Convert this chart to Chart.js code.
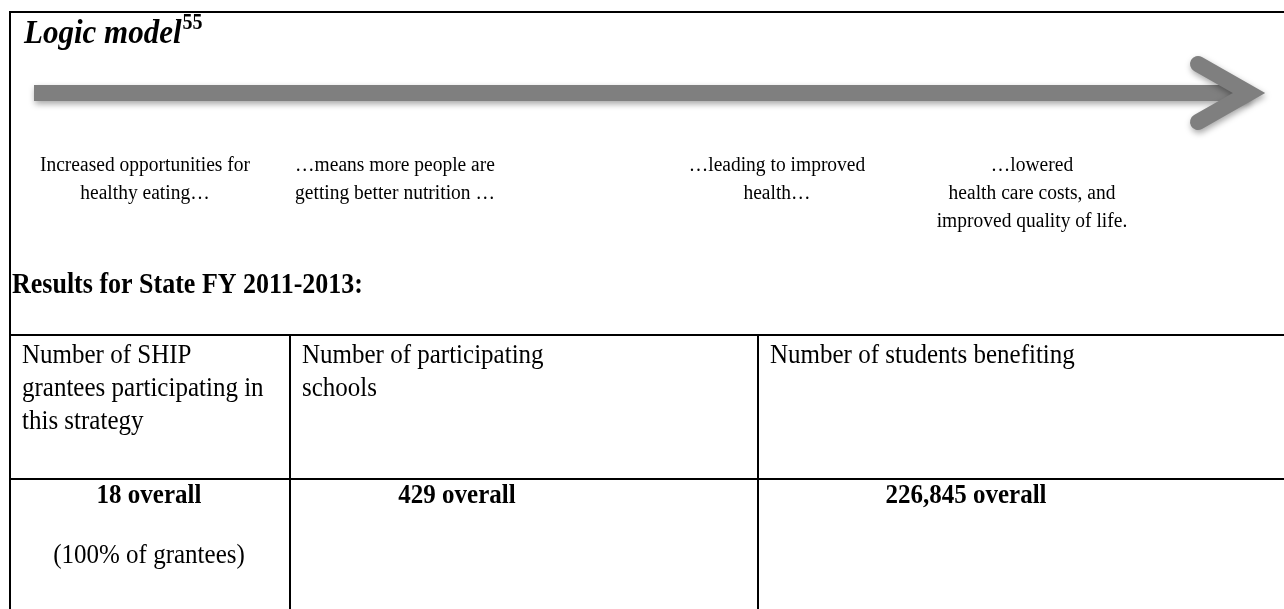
<!DOCTYPE html>
<html>
<head>
<meta charset="utf-8">
<script src="https://cdn.jsdelivr.net/npm/chart.js@4.4.1/dist/chart.umd.min.js"></script>
<style>
    html, body { margin: 0; padding: 0; background: #ffffff; }
    #wrap { width: 1284px; height: 609px; position: relative; }
</style>
</head>
<body>
<div id="wrap"><canvas id="logic"></canvas></div>
<script>
const titleText = 'Logic model';
const footnoteRef = '55';
const stepLabels = [
    ['Increased opportunities for', 'healthy eating…'],
    ['…means more people are', 'getting better nutrition …'],
    ['…leading to improved', 'health…'],
    ['…lowered', 'health care costs, and', 'improved quality of life.']
];
const resultsTitle = 'Results for State FY 2011-2013:';
const columnHeaders = [
    ['Number of SHIP', 'grantees participating in', 'this strategy'],
    ['Number of participating', 'schools'],
    ['Number of students benefiting']
];
const resultValues = [18, 429, 226845];
const resultNotes = ['(100% of grantees)', '', ''];

// page geometry in pixels (the hidden scales map 1:1 onto the canvas)
const layout = {
    border: { left: 10, top: 12 },
    arrow: { x0: 34, x1: 1249, y: 93, width: 16, headBack: 51, headSpread: 29 },
    stepCenters: [145, 395, 777, 1032],
    stepTop: 171,
    stepLine: 28,
    resultsY: 293,
    tableTop: 335,
    tableMid: 479,
    colLines: [290, 758],
    headerTop: 363,
    headerLine: 33,
    valueCenters: [149, 457, 966],
    valueY: 503,
    noteY: 563,
    textStretch: 1.12
};

const serif = '"Liberation Serif", "Times New Roman", serif';

// the source text is a little taller than plain Times at the same width
function tallText(ctx, text, x, y) {
    ctx.save();
    ctx.translate(x, y);
    ctx.scale(1, layout.textStretch);
    ctx.fillText(text, 0, 0);
    ctx.restore();
}

const logicModelPlugin = {
    id: 'logicModel',
    afterDraw(chart) {
        const ctx = chart.ctx;
        const sx = v => chart.scales.x.getPixelForValue(v);
        const sy = v => chart.scales.y.getPixelForValue(v);
        const W = chart.width, H = chart.height;

        ctx.save();

        // outer frame (left and top only are visible)
        ctx.strokeStyle = '#000';
        ctx.lineWidth = 2;
        ctx.beginPath();
        ctx.moveTo(sx(layout.border.left), sy(609));
        ctx.lineTo(sx(layout.border.left), sy(layout.border.top));
        ctx.lineTo(W, sy(layout.border.top));
        ctx.stroke();

        // arrow
        const a = layout.arrow;
        ctx.save();
        ctx.shadowColor = 'rgba(0,0,0,0.35)';
        ctx.shadowBlur = 6;
        ctx.shadowOffsetX = 1;
        ctx.shadowOffsetY = 3;
        ctx.strokeStyle = '#7f7f7f';
        ctx.lineWidth = a.width;
        ctx.lineCap = 'butt';
        ctx.beginPath();
        ctx.moveTo(sx(a.x0), sy(a.y));
        ctx.lineTo(sx(a.x1), sy(a.y));
        ctx.stroke();
        ctx.lineCap = 'round';
        ctx.lineJoin = 'miter';
        ctx.beginPath();
        ctx.moveTo(sx(a.x1 - a.headBack), sy(a.y - a.headSpread));
        ctx.lineTo(sx(a.x1), sy(a.y));
        ctx.lineTo(sx(a.x1 - a.headBack), sy(a.y + a.headSpread));
        ctx.stroke();
        ctx.restore();

        ctx.fillStyle = '#000';
        ctx.textBaseline = 'alphabetic';

        // title with footnote reference
        ctx.textAlign = 'left';
        ctx.font = 'italic bold 31px ' + serif;
        tallText(ctx, titleText, sx(24), sy(43));
        const tw = ctx.measureText(titleText).width;
        ctx.font = 'bold 20px ' + serif;
        tallText(ctx, footnoteRef, sx(24) + tw + 1, sy(29));

        // steps under the arrow
        ctx.textAlign = 'center';
        ctx.font = '19.5px ' + serif;
        stepLabels.forEach((lines, i) => {
            lines.forEach((t, j) => {
                tallText(ctx, t, sx(layout.stepCenters[i]), sy(layout.stepTop + j * layout.stepLine));
            });
        });

        // results heading
        ctx.textAlign = 'left';
        ctx.font = 'bold 26px ' + serif;
        tallText(ctx, resultsTitle, sx(12), sy(layout.resultsY));

        // table rules
        ctx.lineWidth = 2;
        ctx.beginPath();
        [layout.tableTop, layout.tableMid].forEach(y => {
            ctx.moveTo(sx(layout.border.left), sy(y));
            ctx.lineTo(W, sy(y));
        });
        layout.colLines.forEach(x => {
            ctx.moveTo(sx(x), sy(layout.tableTop));
            ctx.lineTo(sx(x), H);
        });
        ctx.stroke();

        // header cells
        const colStarts = [layout.border.left, ...layout.colLines];
        ctx.font = '25px ' + serif;
        columnHeaders.forEach((lines, i) => {
            lines.forEach((t, j) => {
                tallText(ctx, t, sx(colStarts[i] + 12), sy(layout.headerTop + j * layout.headerLine));
            });
        });

        // value cells
        ctx.textAlign = 'center';
        resultValues.forEach((v, i) => {
            ctx.font = 'bold 25px ' + serif;
            tallText(ctx, v.toLocaleString('en-US') + ' overall', sx(layout.valueCenters[i]), sy(layout.valueY));
            if (resultNotes[i]) {
                ctx.font = '25px ' + serif;
                tallText(ctx, resultNotes[i], sx(layout.valueCenters[i]), sy(layout.noteY));
            }
        });

        ctx.restore();
    }
};

new Chart(document.getElementById('logic'), {
    type: 'scatter',
    data: { datasets: [] },
    options: {
        responsive: true,
        maintainAspectRatio: false,
        animation: false,
        events: [],
        layout: { padding: 0 },
        plugins: { legend: { display: false }, tooltip: { enabled: false } },
        scales: {
            x: { type: 'linear', min: 0, max: 1284, display: false },
            y: { type: 'linear', min: 0, max: 609, reverse: true, display: false }
        }
    },
    plugins: [logicModelPlugin]
});
</script>
</body>
</html>
